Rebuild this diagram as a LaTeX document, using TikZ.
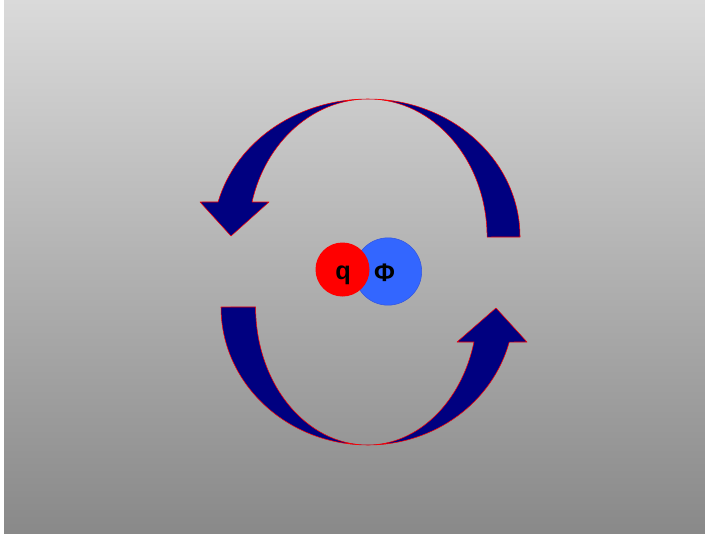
\documentclass[tikz,border=0pt]{standalone}
\usepackage{fontspec}
\setmainfont{Liberation Sans}
\usepackage{tikz}
\usetikzlibrary{positioning}
\definecolor{arrownavy}{HTML}{000080}
\definecolor{chargered}{HTML}{FF0000}
\definecolor{fieldblue}{HTML}{3366FF}
\definecolor{fieldedge}{HTML}{3355E0}
\definecolor{bgtop}{HTML}{DADADA}
\definecolor{bgmid}{HTML}{C6C6C6}
\definecolor{bgbottom}{HTML}{898989}

\begin{document}
\begin{tikzpicture}[
    x=0.75pt,y=0.75pt,
    bigarrow/.style={fill=arrownavy,draw=red,line width=0.4pt,line join=round},
    ball/.style={circle,inner sep=0pt},
    sym/.style={font=\bfseries\fontsize{19}{19}\selectfont,text=black,inner sep=0pt}
  ]
    \useasboundingbox (0,0) rectangle (705,533);
    \fill[white] (0,0) rectangle (705,533);
    \shade[top color=bgtop,middle color=bgmid,bottom color=bgbottom] (4,0) rectangle (705,533);

    % upper arrow, pointing down on the left
    \filldraw[bigarrow] (520,296)
      arc[start angle=0,end angle=90,x radius=152,y radius=138]
      arc[start angle=90,end angle=165.3,x radius=155,y radius=138]
      -- (200,331) -- (231,297) -- (269,331) -- (252,331)
      arc[start angle=165.3,end angle=90,x radius=120,y radius=138]
      arc[start angle=90,end angle=0,x radius=119,y radius=138] -- cycle;

    % lower arrow, pointing up on the right
    \filldraw[bigarrow] (221,226)
      arc[start angle=180,end angle=270,x radius=147,y radius=138]
      arc[start angle=270,end angle=345.3,x radius=146,y radius=138]
      -- (527,191) -- (496,225) -- (457,191) -- (474,191)
      arc[start angle=345.3,end angle=270,x radius=110,y radius=138]
      arc[start angle=270,end angle=180,x radius=112,y radius=138] -- cycle;

    \node[ball,fill=fieldblue,draw=fieldedge,minimum size=50.5pt] (field) at (388,261.5) {};
    \node[ball,fill=chargered,minimum size=40.5pt] (charge) at (342.5,263.5) {};
    \node[sym] (qlabel) at (343,258) {q};
    \node[sym] (philabel) at (384.5,260.5) {Φ};
  \end{tikzpicture}
\end{document}
